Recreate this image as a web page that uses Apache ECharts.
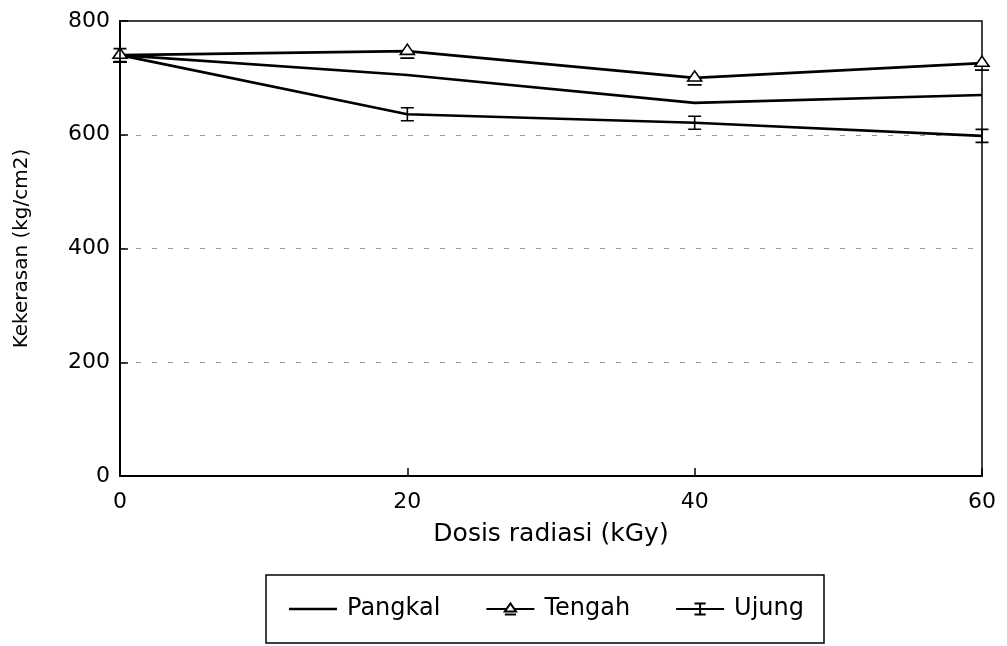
<!DOCTYPE html>
<html>
<head>
<meta charset="utf-8">
<style>
  html, body { margin: 0; padding: 0; background: #fff; }
  #chart { width: 1007px; height: 646px; }
</style>
<script src="https://cdn.jsdelivr.net/npm/echarts@6/dist/echarts.min.js"></script>
</head>
<body>
<div id="chart"></div>
<script>
// dosis radiasi (kGy)
var dosis = [0, 20, 40, 60];
// kekerasan (kg/cm2)
var pangkal = [740, 705, 656, 670];
var tengah = [740, 747, 700, 726];
var ujung = [740, 636, 621, 598];

var font = 'DejaVu Sans';

function pairs(ys) {
    return dosis.map(function (x, i) { return [x, ys[i]]; });
}

// segitiga di atas garis error, dan bentuk "I" untuk ujung
var triSymbol = 'path://M5,0L10,8L0,8Z M0,11L10,11';
var barSymbol = 'path://M0,0L10,0 M5,0L5,10 M0,10L10,10';
var plainIcon = 'path://M0,0H48V2.5H0Z';

var lineBase = {
    type: 'line',
    lineStyle: {color: '#000', width: 2.6},
    itemStyle: {color: '#fff', borderColor: '#000', borderWidth: 1.6},
    emphasis: {disabled: true},
    animation: false,
    z: 3
};

var option = {
    backgroundColor: '#fff',
    textStyle: {fontFamily: font, color: '#000'},
    grid: {
        left: 120, right: 25, top: 21, bottom: 170,
        show: true, borderColor: '#000', borderWidth: 1.5
    },
    legend: {
        left: 266, top: 575,
        padding: [22, 20, 22, 23],
        itemGap: 45,
        itemWidth: 48,
        itemHeight: 14,
        borderColor: '#000',
        borderWidth: 1.5,
        borderRadius: 0,
        textStyle: {fontFamily: font, fontSize: 24, color: '#000', padding: [0, 0, 0, 5]},
        data: [
            {name: 'Pangkal', icon: plainIcon, itemStyle: {color: '#000'}},
            'Tengah',
            'Ujung'
        ]
    },
    xAxis: {
        type: 'value',
        min: 0, max: 60, interval: 20,
        name: 'Dosis radiasi (kGy)',
        nameLocation: 'middle',
        nameGap: 46,
        nameTextStyle: {fontFamily: font, fontSize: 25, color: '#000'},
        axisLine: {lineStyle: {color: '#000', width: 2}},
        axisTick: {inside: true, length: 8, lineStyle: {color: '#000', width: 1.5}},
        axisLabel: {fontFamily: font, fontSize: 22, color: '#000', margin: 15},
        splitLine: {show: false}
    },
    yAxis: {
        type: 'value',
        min: 0, max: 800, interval: 200,
        name: 'Kekerasan (kg/cm2)',
        nameLocation: 'middle',
        nameGap: 88,
        nameTextStyle: {fontFamily: font, fontSize: 20, color: '#000'},
        axisLine: {show: true, lineStyle: {color: '#000', width: 2}},
        axisTick: {show: true, inside: true, length: 8, lineStyle: {color: '#000', width: 1.5}},
        axisLabel: {fontFamily: font, fontSize: 22, color: '#000', margin: 10},
        splitLine: {
            show: true, showMinLine: false, showMaxLine: false,
            lineStyle: {color: '#999', width: 1, type: [5, 11]}
        }
    },
    series: [
        Object.assign({}, lineBase, {
            name: 'Pangkal',
            symbol: 'none',
            itemStyle: {color: '#000'},
            data: pairs(pangkal)
        }),
        Object.assign({}, lineBase, {
            name: 'Tengah',
            symbol: triSymbol,
            symbolSize: [14, 14],
            data: pairs(tengah)
        }),
        Object.assign({}, lineBase, {
            name: 'Ujung',
            symbol: barSymbol,
            symbolSize: [13, 13],
            data: pairs(ujung)
        })
    ]
};

var myChart = echarts.init(document.getElementById('chart'));
myChart.setOption(option);
</script>
</body>
</html>
